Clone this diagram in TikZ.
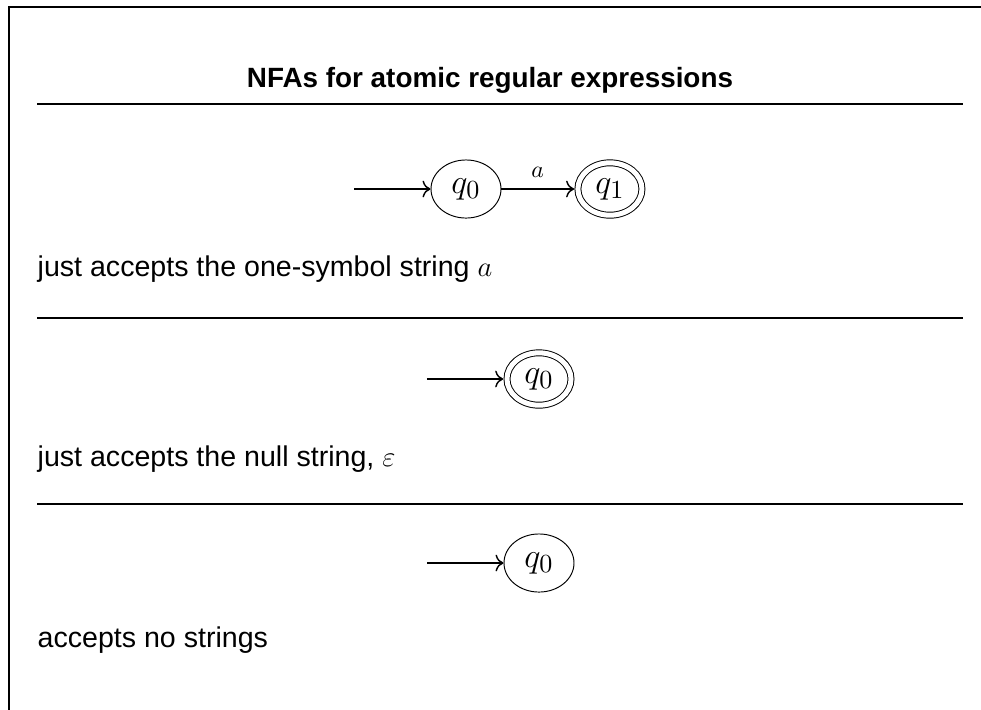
\documentclass[tikz,border=0pt]{standalone}
\usepackage[no-math]{fontspec}
\setmainfont{Liberation Sans}
\usetikzlibrary{arrows.meta,positioning}
\usetikzlibrary{shapes.geometric}

\tikzset{
  nfastate/.style={draw,ellipse,inner sep=0pt,minimum width=29.4pt,minimum height=24.4pt,font=\fontsize{15.5}{18}\selectfont},
  nfaaccept/.style={nfastate,double,double distance=2.1pt,outer sep=1.6pt,minimum width=26.9pt,minimum height=22pt},
  caption/.style={anchor=west,inner sep=0pt,font=\fontsize{12}{14}\selectfont},
  rule/.style={line width=1.2pt}
}

\begin{document}
\begin{tikzpicture}[x=0.42pt,y=-0.42pt,>={To[scale=1.15]},semithick]
\useasboundingbox (0,0) rectangle (981,709);
\clip (0,0) rectangle (981,709);

% frame, cut at the right and at the bottom
\draw[line width=0.8pt] (9,730) -- (9,7) -- (1000,7);

\node[font=\bfseries\fontsize{11.7}{14}\selectfont] (title) at (490,80) {NFAs for atomic regular expressions};

\foreach \y in {104,318,504}
\draw[rule] (37,\y) -- (963,\y);

% the symbol a
\node[nfastate,thin] (q0a) at (466,189) {$q_0$};
\node[nfaaccept,thin,right=30.5pt of q0a] (q1a) {$q_1$};
\coordinate[left=32pt of q0a] (in0a);
\draw[->] (in0a) -- (q0a);
\draw[->] (q0a) -- node[above=1pt] {$a$} (q1a);
\node[caption] (ta) at (37,269) {just accepts the one-symbol string $a$};

% the null string
\node[nfaaccept,thin] (q0b) at (539,379) {$q_0$};
\coordinate[left=32pt of q0b] (in0b);
\draw[->] (in0b) -- (q0b);
\node[caption] (tb) at (37,459) {just accepts the null string, $\varepsilon$};

% the empty set
\node[nfastate,thin] (q0c) at (539,563) {$q_0$};
\coordinate[left=32pt of q0c] (in0c);
\draw[->] (in0c) -- (q0c);
\node[caption] (tc) at (37,640) {accepts no strings};
\end{tikzpicture}
\end{document}
